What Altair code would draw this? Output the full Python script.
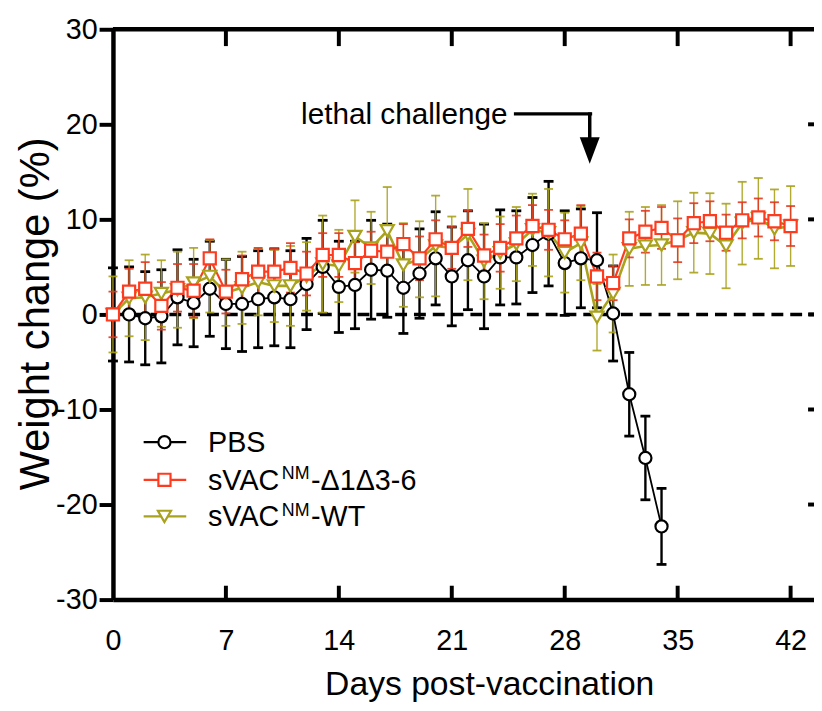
import altair as alt
import pandas as pd

FONT = "Liberation Sans"

# ---------------- data ----------------
pbs_days = list(range(0, 35))
vac_days = list(range(0, 43))

pbs_mean = [0.0, 0.0, -0.4, -0.2, 1.8, 1.2, 2.7, 1.1, 1.1, 1.6,
            1.8, 1.6, 3.2, 5.0, 2.9, 3.1, 4.7, 4.6, 2.8, 4.3,
            5.9, 4.0, 5.7, 4.0, 6.0, 6.0, 7.3, 8.5, 5.4, 5.9,
            5.7, 0.1, -8.4, -15.1, -22.3]
pbs_err = [4.9, 5.0, 4.9, 4.9, 5.0, 4.6, 5.0, 4.7, 5.0, 5.1,
           5.1, 5.1, 4.8, 4.9, 4.8, 4.6, 5.2, 4.9, 4.8, 4.7,
           4.9, 5.2, 5.2, 5.5, 5.0, 4.9, 5.0, 5.5, 5.5, 5.2,
           5.0, 5.0, 4.4, 4.4, 4.0]

d136_mean = [0.0, 2.4, 2.7, 0.9, 2.8, 2.5, 5.9, 2.4, 3.7, 4.5,
             4.5, 4.9, 4.3, 6.25, 6.25, 5.4, 6.7, 6.6, 7.4, 5.9,
             7.9, 7.0, 9.0, 6.2, 7.0, 8.0, 9.3, 8.9, 7.9, 8.5,
             4.0, 3.3, 8.0, 8.7, 9.1, 7.8, 9.6, 9.8, 8.6, 9.9,
             10.2, 9.8, 9.3]
d136_err = [2.4, 2.4, 2.8, 2.5, 2.5, 2.8, 2.0, 2.3, 2.5, 2.5,
            2.4, 2.6, 2.3, 2.3, 2.3, 2.2, 2.0, 2.4, 2.1, 2.3,
            2.0, 2.2, 1.9, 2.2, 2.5, 2.4, 2.2, 2.1, 2.0, 3.0,
            2.5, 1.8, 2.0, 2.2, 2.2, 2.3, 2.1, 2.1, 1.9, 1.9,
            2.0, 2.0, 2.1]

wt_mean = [0.0, 1.7, 1.8, 2.2, 2.6, 3.3, 4.0, 2.3, 2.8, 3.4,
           3.0, 3.0, 4.0, 5.3, 5.1, 8.2, 7.0, 8.8, 5.2, 5.8,
           7.2, 7.0, 8.4, 5.6, 6.5, 7.4, 8.9, 8.6, 6.5, 7.5,
           -0.3, 2.2, 6.9, 7.2, 7.3, 7.8, 8.6, 8.5, 7.2, 9.6,
           10.1, 9.0, 9.3]
wt_err = [4.0, 4.0, 4.5, 3.5, 4.0, 3.7, 3.8, 3.5, 3.8, 3.5,
          3.8, 4.2, 3.6, 5.1, 3.8, 3.8, 3.8, 4.6, 4.4, 4.0,
          5.3, 3.3, 4.8, 4.0, 3.8, 3.9, 3.8, 4.6, 4.2, 3.9,
          3.5, 4.1, 3.9, 4.1, 4.2, 4.1, 4.2, 4.25, 4.45, 4.35,
          4.25, 4.15, 4.2]

x_ticks = [0, 7, 14, 21, 28, 35, 42]
y_ticks = [-30, -20, -10, 0, 10, 20, 30]

annot_text = "lethal challenge"
annot_text_pos = (24.45, 20.0)
arrow_h = (24.85, 29.7, 21.1)
arrow_v = (29.55, 21.25, 18.4)
arrow_head = (29.55, 17.25)

# ---------------- layout ----------------
W, H = 708, 576
BLACK = "#000000"
RED = "#FF3B1F"
OLIVE = "#A9A21C"


def frame(days, mean, err):
    return pd.DataFrame({
        "day": days,
        "mean": mean,
        "lo": [m - e for m, e in zip(mean, err)],
        "hi": [m + e for m, e in zip(mean, err)],
    })


pbs_df = frame(pbs_days, pbs_mean, pbs_err)
d136_df = frame(vac_days, d136_mean, d136_err)
wt_df = frame(vac_days, wt_mean, wt_err)

xscale = alt.Scale(domain=[0, 43.45], nice=False, zero=False)
yscale = alt.Scale(domain=[-30, 30], nice=False, zero=False)

xaxis = alt.Axis(values=x_ticks, ticks=False, tickSize=0, domainWidth=4.5,
                 domainColor=BLACK, labelFont=FONT, labelFontSize=29,
                 labelColor=BLACK, labelPadding=27, grid=False,
                 title="Days post-vaccination", titleFont=FONT,
                 titleFontSize=34, titleFontWeight="normal", titleColor=BLACK,
                 titlePadding=13, titleX=380, labelFlush=False)
yaxis = alt.Axis(values=y_ticks, tickSize=14, tickWidth=4, tickColor=BLACK,
                 domainWidth=4.5, domainColor=BLACK, labelFont=FONT,
                 labelFontSize=29, labelColor=BLACK, labelPadding=2,
                 labelExpr="'' + datum.value",
                 grid=False, title="Weight change (%)", titleFont=FONT,
                 titleFontSize=42, titleFontWeight="normal", titleColor=BLACK,
                 titleX=-56, titleY=287, titleBaseline="bottom", labelFlush=False)


def X(field):
    return alt.X(field, type="quantitative", scale=xscale, axis=xaxis)


def Y(field):
    return alt.Y(field, type="quantitative", scale=yscale, axis=yaxis)


def series(df, color, shape, size, line_w, err_w, cap_w, cap_size, err_color, err_opacity):
    base = alt.Chart(df)
    bars = base.mark_rule(color=err_color, strokeWidth=err_w, opacity=err_opacity).encode(
        x=X("day"), y=Y("lo"), y2="hi")
    cap_lo = base.mark_tick(orient="horizontal", color=err_color, size=cap_size,
                            thickness=cap_w, opacity=err_opacity).encode(x=X("day"), y=Y("lo"))
    cap_hi = base.mark_tick(orient="horizontal", color=err_color, size=cap_size,
                            thickness=cap_w, opacity=err_opacity).encode(x=X("day"), y=Y("hi"))
    line = base.mark_line(color=color, strokeWidth=line_w).encode(x=X("day"), y=Y("mean"))
    pts = base.mark_point(shape=shape, filled=True, fill="white", stroke=color,
                          strokeWidth=2.2, size=size, opacity=1).encode(x=X("day"), y=Y("mean"))
    return [bars, cap_lo, cap_hi], line, pts


CIRC, SQ, TRI = 150, 150, 175
pbs_err_l, pbs_line, pbs_pts = series(pbs_df, BLACK, "circle", CIRC, 1.8, 2.4, 2.8, 10, BLACK, 1)
wt_err_l, wt_line, wt_pts = series(wt_df, OLIVE, "triangle-down", TRI, 2.6, 1.4, 1.8, 9, OLIVE, 0.9)
d_err_l, d_line, d_pts = series(d136_df, RED, "square", SQ, 2.2, 1.5, 1.8, 9, "#E2371F", 0.9)

one = pd.DataFrame({"k": [0]})
tick_df = pd.DataFrame({"v": x_ticks[1:]})
ytick_df = pd.DataFrame({"v": y_ticks[1:-1]})

zero_line = alt.Chart(pd.DataFrame({"v": [0]})).mark_rule(
    color=BLACK, strokeWidth=3.5, strokeDash=[12, 7]).encode(
    y=Y("v"), x=alt.value(0), x2=alt.value(W))

top_border = alt.Chart(one).mark_rule(color=BLACK, strokeWidth=4.5).encode(
    x=alt.value(0), x2=alt.value(W), y=alt.value(0))
top_ticks = alt.Chart(tick_df).mark_rule(color=BLACK, strokeWidth=4).encode(
    x=X("v"), y=alt.value(0), y2=alt.value(17))
bottom_ticks = alt.Chart(tick_df).mark_rule(color=BLACK, strokeWidth=4).encode(
    x=X("v"), y=alt.value(H - 14), y2=alt.value(H))
right_ticks = alt.Chart(ytick_df).mark_rule(color=BLACK, strokeWidth=4).encode(
    y=Y("v"), x=alt.value(W - 6), x2=alt.value(W))

# annotation
ann_df = pd.DataFrame({"x": [annot_text_pos[0]], "y": [annot_text_pos[1]]})
ann_text = alt.Chart(ann_df).mark_text(text=annot_text, align="right", baseline="alphabetic",
                                       font=FONT, fontSize=30, color=BLACK).encode(
    x=X("x"), y=Y("y"))
arr_h_df = pd.DataFrame({"x": [arrow_h[0]], "x2": [arrow_h[1]], "y": [arrow_h[2]]})
arr_h = alt.Chart(arr_h_df).mark_rule(color=BLACK, strokeWidth=3.5).encode(
    x=X("x"), x2="x2", y=Y("y"))
arr_v_df = pd.DataFrame({"x": [arrow_v[0]], "y": [arrow_v[1]], "y2": [arrow_v[2]]})
arr_v = alt.Chart(arr_v_df).mark_rule(color=BLACK, strokeWidth=3.5).encode(
    x=X("x"), y=Y("y"), y2="y2")
head_df = pd.DataFrame({"x": [arrow_head[0]], "y": [arrow_head[1]]})
arr_head = alt.Chart(head_df).mark_point(shape="M-0.75,-1L0.75,-1L0,1Z", filled=True,
                                         color=BLACK, size=720, opacity=1).encode(
    x=X("x"), y=Y("y"))


# legend (pixel layout)
def legend_entry(row_y, color, shape, size, main, sup=None, rest=None):
    base = alt.Chart(one)
    layers = [
        base.mark_rule(color=color, strokeWidth=2.2).encode(
            x=alt.value(31), x2=alt.value(74), y=alt.value(row_y)),
        base.mark_point(shape=shape, filled=True, fill="white", stroke=color,
                        strokeWidth=2.2, size=size, opacity=1).encode(
            x=alt.value(52), y=alt.value(row_y)),
        base.mark_text(text=main, align="left", baseline="alphabetic", font=FONT,
                       fontSize=29, color=BLACK).encode(
            x=alt.value(96), y=alt.value(row_y + 10)),
    ]
    if sup:
        layers.append(base.mark_text(text=sup, align="left", baseline="alphabetic",
                                     font=FONT, fontSize=18, color=BLACK).encode(
            x=alt.value(170.5), y=alt.value(row_y - 0.5)))
        layers.append(base.mark_text(text=rest, align="left", baseline="alphabetic",
                                     font=FONT, fontSize=29, color=BLACK).encode(
            x=alt.value(200), y=alt.value(row_y + 10)))
    return layers


legend = (legend_entry(417, BLACK, "circle", CIRC, "PBS")
          + legend_entry(455, RED, "square", SQ, "sVAC", "NM", "-\u03941\u03943-6")
          + legend_entry(492, OLIVE, "triangle-down", TRI, "sVAC", "NM", "-WT"))

layers = ([zero_line]
          + pbs_err_l + wt_err_l + d_err_l
          + [pbs_line, wt_line, d_line, pbs_pts, wt_pts, d_pts]
          + [top_border, top_ticks, bottom_ticks, right_ticks]
          + [ann_text, arr_h, arr_v, arr_head]
          + legend)

chart = alt.layer(*layers).properties(
    width=W, height=H,
    autosize=alt.AutoSizeParams(type="none"),
    padding={"left": 106, "top": 18, "right": 0, "bottom": 105},
).configure_view(stroke=None).configure(background="white")

chart.save("out.html", embed_options={"renderer": "svg", "actions": False})
